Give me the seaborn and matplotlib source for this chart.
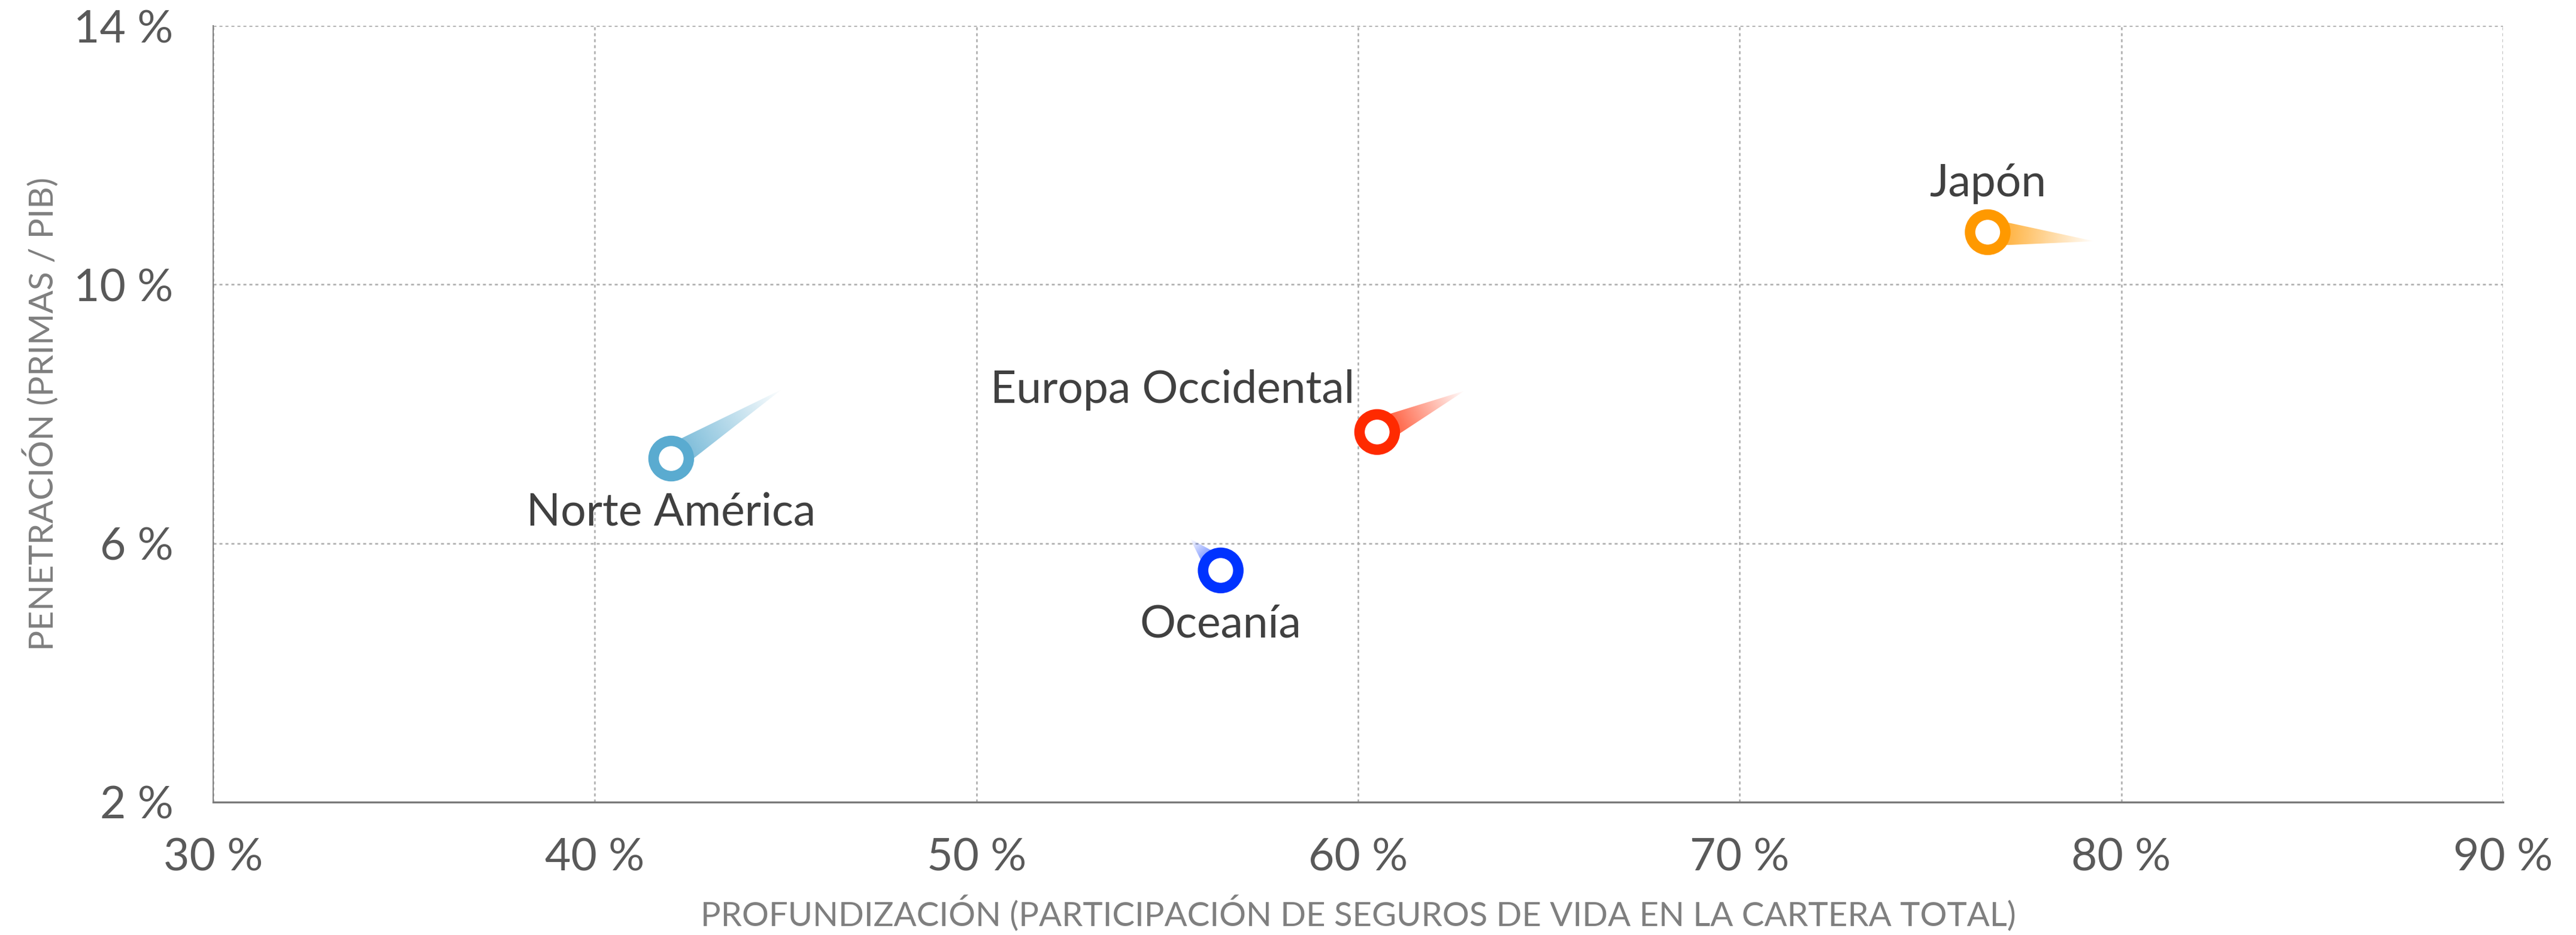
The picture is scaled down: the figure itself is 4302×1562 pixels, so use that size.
"""Profundizacion vs penetracion del seguro de vida por region."""

import numpy as np
import pandas as pd
import matplotlib
matplotlib.use("Agg")
import matplotlib.pyplot as plt
import seaborn as sns
from matplotlib.colors import to_rgb
from matplotlib.patches import Polygon
from matplotlib.ticker import FuncFormatter

# --- datos ---
regiones = ["Norte América", "Europa Occidental", "Oceanía", "Japón"]
profundizacion = [42.0, 60.5, 56.4, 76.5]          # % vida / cartera total
penetracion = [7.31, 7.72, 5.58, 10.81]            # % primas / PIB
profundizacion_prev = [44.9, 62.8, 55.6, 79.3]     # punta de la estela
penetracion_prev = [8.38, 8.36, 6.07, 10.67]
colores = ["#5aabd0", "#ff2a00", "#0033ff", "#ff9900"]

x_ticks = [30, 40, 50, 60, 70, 80, 90]
y_ticks = [2, 6, 10, 14]

# posicion de cada etiqueta respecto al punto (puntos tipograficos)
label_pos = {
    "Norte América": ((0, -80), "center"),
    "Europa Occidental": ((-27, 35), "right"),
    "Oceanía": ((0, -80), "center"),
    "Japón": ((0, 43), "center"),
}


def draw_tail(ax, x0, y0, x1, y1, color, half_w=23, a0=0.9, n=240):
    # estela con degradado, construida en pixeles y devuelta a datos
    trans = ax.transData
    p0 = trans.transform((x0, y0))
    p1 = trans.transform((x1, y1))
    d = p1 - p0
    length = np.hypot(*d)
    u = d / length
    nrm = np.array([-u[1], u[0]])
    corners = trans.inverted().transform(
        np.array([p0 + nrm * half_w, p1, p0 - nrm * half_w])
    )
    poly = Polygon(corners, closed=True, facecolor="none", edgecolor="none")
    ax.add_patch(poly)

    xmin, ymin = corners.min(axis=0)
    xmax, ymax = corners.max(axis=0)
    gx, gy = np.meshgrid(np.linspace(xmin, xmax, n), np.linspace(ymin, ymax, n))
    pts = trans.transform(np.column_stack([gx.ravel(), gy.ravel()]))
    t = ((pts - p0) @ u) / length
    alpha = a0 * np.clip(1 - t, 0, 1)

    rgba = np.zeros((n, n, 4))
    rgba[..., :3] = to_rgb(color)
    rgba[..., 3] = alpha.reshape(n, n)
    im = ax.imshow(
        rgba, extent=(xmin, xmax, ymin, ymax), origin="lower",
        aspect="auto", interpolation="bilinear", zorder=2,
    )
    im.set_clip_path(poly)


def main() -> None:
    sns.set_theme(style="white")
    plt.rcParams["font.family"] = ["Lato", "DejaVu Sans"]

    df = pd.DataFrame({
        "region": regiones,
        "x": profundizacion,
        "y": penetracion,
        "x_prev": profundizacion_prev,
        "y_prev": penetracion_prev,
    })
    palette = dict(zip(regiones, colores))

    fig, ax = plt.subplots(figsize=(43.02, 15.62), dpi=100)
    fig.subplots_adjust(left=0.0828, right=0.9716, top=0.9723, bottom=0.1423)

    ax.set_xlim(30, 90)
    ax.set_ylim(2, 14)

    # --- estelas ---
    for _, row in df.iterrows():
        draw_tail(ax, row.x, row.y, row.x_prev, row.y_prev, palette[row.region])

    # --- puntos huecos ---
    sns.scatterplot(
        data=df, x="x", y="y", hue="region", palette=palette,
        s=1800, linewidth=12.6, legend=False, ax=ax, zorder=4,
    )
    pts = ax.collections[-1]
    pts.set_edgecolors(pts.get_facecolors())
    pts.set_facecolors("white")

    # --- etiquetas ---
    for _, row in df.iterrows():
        offset, ha = label_pos[row.region]
        ax.annotate(
            row.region, (row.x, row.y), xytext=offset, textcoords="offset points",
            ha=ha, va="baseline", fontsize=54, color="#404040", zorder=5,
        )

    ax.set_xlim(30, 90)
    ax.set_ylim(2, 14)

    # --- ejes ---
    ax.set_xticks(x_ticks)
    ax.set_yticks(y_ticks)
    pct = FuncFormatter(lambda v, _: f"{v:.0f} %")
    ax.xaxis.set_major_formatter(pct)
    ax.yaxis.set_major_formatter(pct)
    ax.tick_params(axis="both", direction="out", length=6, width=1.5,
                   color="#808080", labelsize=54, labelcolor="#595959")
    ax.tick_params(axis="x", pad=36)
    ax.tick_params(axis="y", pad=42)

    ax.set_axisbelow(True)
    ax.grid(True, linestyle=(0, (2, 2)), color="#ababab", linewidth=1.8)

    for side in ["top", "right"]:
        ax.spines[side].set_visible(False)
    ax.spines["left"].set_color("#808080")
    ax.spines["left"].set_linewidth(1.5)
    ax.spines["bottom"].set_color("#7a7a7a")
    ax.spines["bottom"].set_linewidth(2.4)

    ax.set_xlabel("PROFUNDIZACIÓN (PARTICIPACIÓN DE SEGUROS DE VIDA EN LA CARTERA TOTAL)",
                  fontsize=40.5, color="#7f7f7f")
    ax.set_ylabel("PENETRACIÓN (PRIMAS / PIB)", fontsize=41, color="#7f7f7f")
    ax.xaxis.set_label_coords(0.5, -0.1443)
    ax.yaxis.set_label_coords(-0.0753, 0.5)
    ax.xaxis.label.set_va("center")
    ax.yaxis.label.set_va("center")

    fig.savefig("out.png", dpi=100, facecolor="white")
    plt.close(fig)


if __name__ == "__main__":
    main()
